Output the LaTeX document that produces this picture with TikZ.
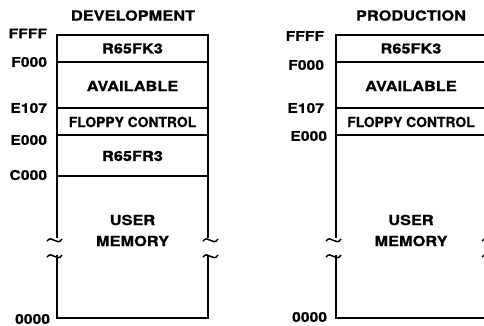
\documentclass[tikz,border=0pt]{standalone}
\usepackage{fontspec}
\setmainfont{TeX Gyre Heros}
\newfontfamily\wf[FakeStretch=1.18,FakeBold=0.6]{TeX Gyre Heros}
\newfontfamily\nf[FakeBold=0.6]{TeX Gyre Heros}
\begin{document}
\begin{tikzpicture}[x=0.75pt,y=-0.75pt,line width=1.4pt,
  txt/.style={font=\wf\bfseries\fontsize{10.4}{12}\selectfont,inner sep=0pt},
  ntxt/.style={font=\nf\bfseries\fontsize{10.4}{12}\selectfont,inner sep=0pt},
  addr/.style={font=\wf\bfseries\fontsize{10}{12}\selectfont,inner sep=0pt,anchor=east},
  mem/.style={line width=1.4pt},
  brkL/.pic={\draw[line width=1.1pt] (-10,1) .. controls (-5,-6) and (0,7) .. (5,-1);},
  brkR/.pic={\draw[line width=1.1pt] (-5,1) .. controls (0,-6) and (5,7) .. (10,-1);}]
\useasboundingbox (0,0) rectangle (484,325);
% ---------- DEVELOPMENT ----------
\node[txt] (devtitle) at (133,15.5) {DEVELOPMENT};
\draw[mem] (57,238) -- (57,35) -- (208,35) -- (208,238);
\draw[mem] (57,62) -- (208,62);
\draw[mem] (57,108) -- (208,108);
\draw[mem] (57,135) -- (208,135);
\draw[mem] (57,176) -- (208,176);
\draw[mem] (57,255) -- (57,318) -- (208,318) -- (208,255);
\pic at (57,240) {brkL};
\pic at (57,256) {brkL};
\pic at (208,240) {brkR};
\pic at (208,256) {brkR};
\node[txt] (dk3) at (132.5,48.5) {R65FK3};
\node[txt] (dav) at (132.5,86) {AVAILABLE};
\node[ntxt] (dfl) at (132.5,122) {FLOPPY CONTROL};
\node[txt] (dr3) at (132.5,156) {R65FR3};
\node[txt] (dus) at (132.5,220) {USER};
\node[txt] (dme) at (132.5,241) {MEMORY};
\node[addr] (dffff) at (48,33.5) {FFFF};
\node[addr] (df000) at (48,62) {F000};
\node[addr] (de107) at (48,108) {E107};
\node[addr] (de000) at (48,140) {E000};
\node[addr] (dc000) at (48,175) {C000};
\node[addr] (d0000) at (51,319) {0000};
% ---------- PRODUCTION ----------
\node[txt] (protitle) at (411,15.5) {PRODUCTION};
\draw[mem] (336,238) -- (336,35) -- (487,35) -- (487,238);
\draw[mem] (336,62) -- (487,62);
\draw[mem] (336,108) -- (487,108);
\draw[mem] (336,135) -- (487,135);
\draw[mem] (336,255) -- (336,318) -- (487,318) -- (487,255);
\pic at (336,240) {brkL};
\pic at (336,256) {brkL};
\pic at (487,240) {brkR};
\pic at (487,256) {brkR};
\node[txt] (pk3) at (411,48.5) {R65FK3};
\node[txt] (pav) at (411,86) {AVAILABLE};
\node[ntxt] (pfl) at (411,122) {FLOPPY CONTROL};
\node[txt] (pus) at (411,220) {USER};
\node[txt] (pme) at (411,241) {MEMORY};
\node[addr] (pffff) at (325,36) {FFFF};
\node[addr] (pf000) at (325,65) {F000};
\node[addr] (pe107) at (325,108) {E107};
\node[addr] (pe000) at (328,136) {E000};
\node[addr] (p0000) at (328,317) {0000};
\end{tikzpicture}
\end{document}
